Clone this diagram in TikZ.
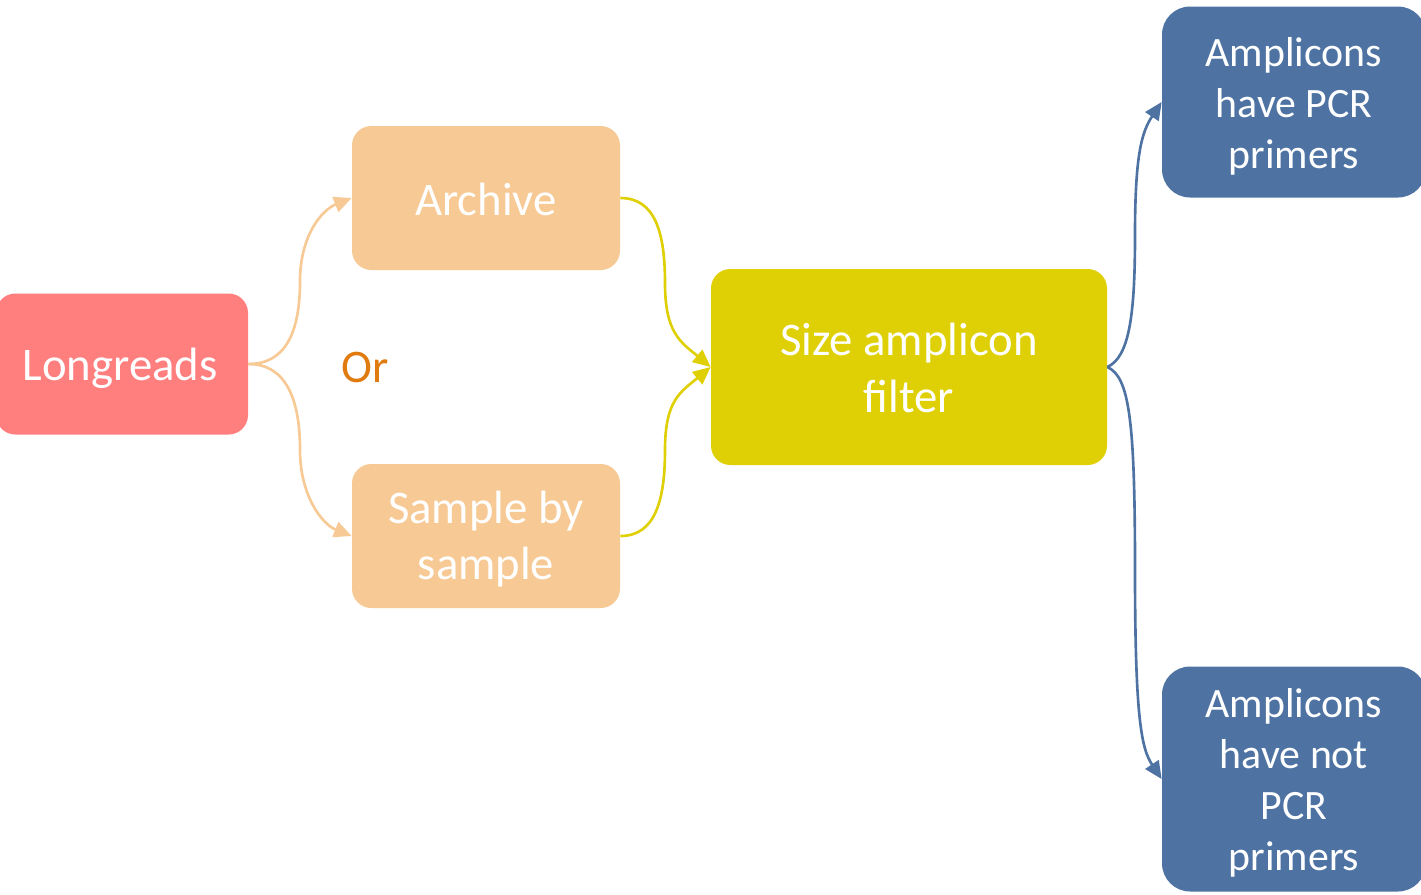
\documentclass[tikz,border=0pt]{standalone}
\usepackage{fontspec}
\setmainfont{Carlito}
\usetikzlibrary{arrows.meta}
\definecolor{cRed}{HTML}{FF7F7F}
\definecolor{cPeach}{HTML}{F7C994}
\definecolor{cYel}{HTML}{DFD005}
\definecolor{cBlue}{HTML}{4E73A3}
\definecolor{cOr}{HTML}{E07B10}
\begin{document}
\begin{tikzpicture}[x=0.02cm,y=-0.02cm,
  box/.style={rectangle, rounded corners=11pt, inner sep=0pt},
  bluebox/.style={box, fill=cBlue, rounded corners=16pt},
  txt/.style={text=white, align=center, inner sep=0pt, font=\fontsize{26.6}{32.4}\selectfont},
  bluetxt/.style={txt, font=\fontsize{23.8}{29}\selectfont},
  conn/.style={line width=1.5pt, -{Triangle[length=10pt,width=9pt]}}]
\useasboundingbox (0,0) rectangle (1421,894);
\begin{scope}
\clip (0,0) rectangle (1421,894);
\node[box, fill=cRed, minimum width=252*0.02cm, minimum height=141*0.02cm] (lr) at (122,364) {};
\node[box, fill=cPeach, minimum width=268*0.02cm, minimum height=144*0.02cm] (ar) at (486,198) {};
\node[box, fill=cPeach, minimum width=268*0.02cm, minimum height=144*0.02cm] (ss) at (486,536) {};
\node[box, fill=cYel, minimum width=396*0.02cm, minimum height=196*0.02cm] (sf) at (909,367) {};
\node[bluebox, minimum width=264*0.02cm, minimum height=191*0.02cm] (b1) at (1294,102) {};
\node[bluebox, minimum width=264*0.02cm, minimum height=225*0.02cm] (b2) at (1294,779) {};
\end{scope}
\node[txt] (lrt) at (120,368) {Longreads};
\node[txt] (art) at (486,199) {Archive};
\node[txt] (sst) at (486,539) {Sample by\\sample};
\node[txt] (sft) at (909,368) {Size amplicon\\filter};
\node[bluetxt] (b1t) at (1294,106) {Amplicons\\have PCR\\primers};
\node[bluetxt] (b2t) at (1294,783) {Amplicons\\have not\\PCR\\primers};
\node[text=cOr, font=\fontsize{26.6}{32}\selectfont] (or) at (365,367) {Or};
\coordinate (m1) at (300,281);
\coordinate (m2) at (300,450);
\coordinate (m3) at (665,283);
\coordinate (m4) at (665,450);
\coordinate (m5) at (1135,235);
\coordinate (m6) at (1135,570);
\draw[conn, draw=cPeach] (lr.east) .. controls +(38,0) and +(0,50) .. (m1) .. controls +(0,-45) and +(-30,12) .. (ar.west);
\draw[conn, draw=cPeach] (lr.east) .. controls +(38,0) and +(0,-50) .. (m2) .. controls +(0,45) and +(-30,-12) .. (ss.west);
\draw[line width=1.5pt, draw=cYel] (ar.east) .. controls +(35,0) and +(0,-50) .. (m3);
\draw[conn, draw=cYel] (m3) .. controls +(0,50) and +(-30,-25) .. (sf.west);
\draw[line width=1.5pt, draw=cYel] (ss.east) .. controls +(35,0) and +(0,50) .. (m4);
\draw[conn, draw=cYel] (m4) .. controls +(0,-50) and +(-30,25) .. (sf.west);
\draw[conn, draw=cBlue] (sf.east) .. controls +(22,-10) and +(0,80) .. (m5) .. controls +(0,-80) and +(-20,30) .. (b1.west);
\draw[conn, draw=cBlue] (sf.east) .. controls +(22,10) and +(0,-150) .. (m6) .. controls +(0,150) and +(-20,-30) .. (b2.west);
\end{tikzpicture}
\end{document}
